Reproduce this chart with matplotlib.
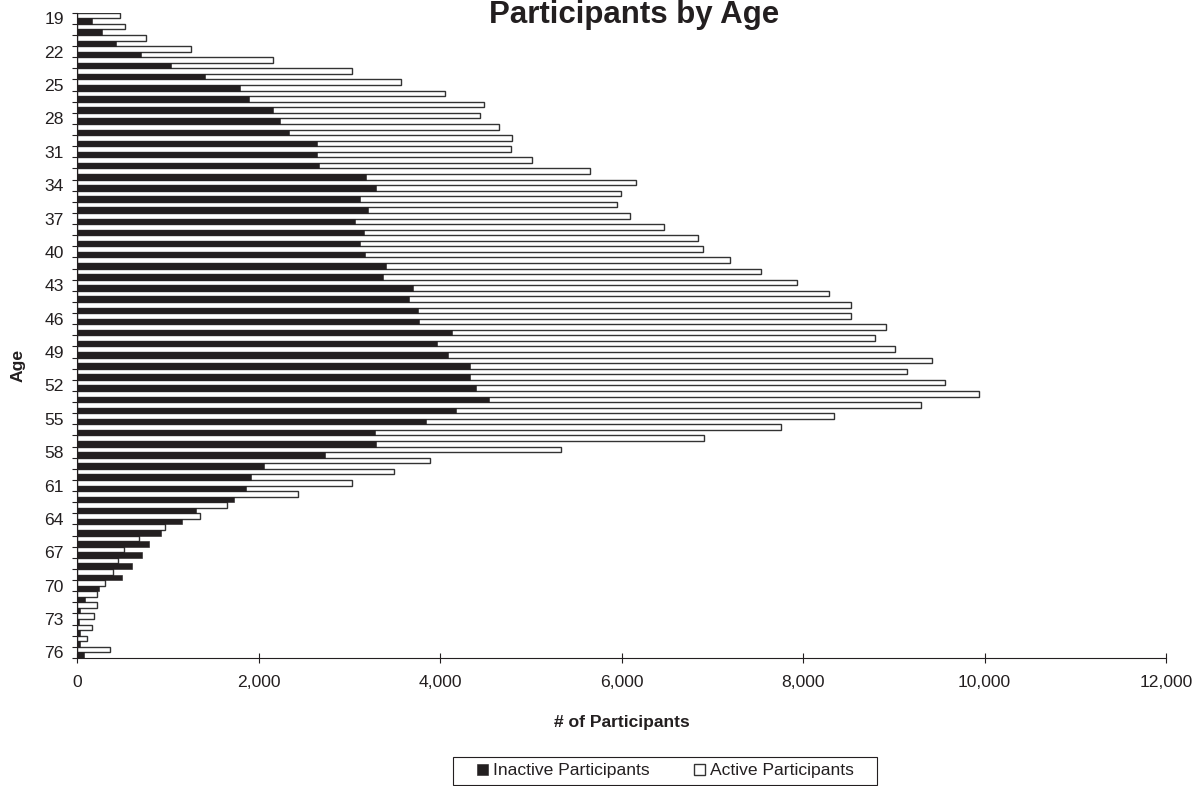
import numpy as np
import matplotlib
matplotlib.use("Agg")
from matplotlib import pyplot as plt
from matplotlib.patches import Rectangle
from matplotlib.ticker import FuncFormatter

# ages on the y axis, youngest at the top
ages = list(range(19, 77))

# number of inactive participants per age (black bars)
inactive = [165, 275, 425, 700, 1035, 1410, 1800, 1895, 2155, 2240,
            2340, 2650, 2650, 2670, 3180, 3300, 3120, 3210, 3065, 3165,
            3120, 3170, 3405, 3375, 3705, 3655, 3760, 3765, 4130, 3965,
            4090, 4330, 4335, 4400, 4535, 4180, 3845, 3280, 3290, 2735,
            2065, 1915, 1865, 1735, 1315, 1160, 930, 795, 720, 605,
            500, 240, 85, 35, 20, 30, 30, 80]

# number of active participants per age (white bars)
active = [475, 525, 765, 1255, 2165, 3030, 3565, 4055, 4490, 4440,
          4650, 4790, 4780, 5010, 5650, 6155, 5995, 5950, 6095, 6470,
          6845, 6900, 7195, 7535, 7930, 8285, 8525, 8530, 8915, 8790,
          9010, 9420, 9145, 9570, 9940, 9300, 8345, 7755, 6910, 5335,
          3890, 3495, 3035, 2435, 1650, 1360, 970, 680, 520, 455,
          400, 310, 220, 215, 190, 160, 115, 365]

xticks = [0, 2000, 4000, 6000, 8000, 10000, 12000]

plt.rcParams['font.family'] = ['Liberation Sans', 'DejaVu Sans']
plt.rcParams['font.size'] = 12.6
plt.rcParams['text.color'] = '#231f20'

W, H = 1198, 786
ink = '#231f20'

fig = plt.figure(figsize=(W / 100, H / 100), dpi=100)
ax = fig.add_axes([77 / W, 1 - 658 / H, (1166 - 77) / W, (658 - 12.7) / H])

# bars: active on top half of each age band, inactive on the bottom half
y = np.arange(len(ages))
white = ax.barh(y - 0.25, active, height=0.5, color='white',
                edgecolor='#333333', linewidth=1.0, zorder=2)
black = ax.barh(y + 0.25, inactive, height=0.5, color=ink,
                edgecolor=ink, linewidth=0.4, zorder=3)

ax.set_xlim(0, 12000)
ax.set_ylim(len(ages) - 0.5, -0.5)

# y axis: labels every third age, tick marks on the band edges
ax.set_yticks(y[::3])
ax.set_yticklabels([str(a) for a in ages[::3]])
ax.set_yticks(np.arange(-0.5, len(ages)), minor=True)
ax.tick_params(axis='y', which='major', length=0, pad=9.4, labelcolor=ink)
ax.tick_params(axis='y', which='minor', length=3.4, width=0.8,
               direction='out', color=ink)

# x axis
ax.set_xticks(xticks)
ax.xaxis.set_major_formatter(FuncFormatter(lambda v, p: '{:,.0f}'.format(v)))
ax.tick_params(axis='x', direction='inout', length=7.2, width=0.8,
               pad=8.6, color=ink, labelcolor=ink)

for side in ['top', 'right']:
    ax.spines[side].set_visible(False)
for side in ['left', 'bottom']:
    ax.spines[side].set_color(ink)
    ax.spines[side].set_linewidth(0.8)

# texts
fig.text(634 / W, 1 - 22.5 / H, 'Participants by Age', ha='center',
         va='baseline', fontsize=22.5, fontweight='bold')
fig.text(621.5 / W, 1 - 727 / H, '# of Participants', ha='center',
         va='baseline', fontweight='bold')
fig.text(18 / W, 1 - 365 / H, 'Age', rotation=90, ha='center',
         va='center', fontweight='bold')

# legend with a plain square frame
fig.legend(handles=[black, white],
           labels=['Inactive Participants', 'Active Participants'],
           loc='center left', bbox_to_anchor=(477 / W, 1 - 771 / H),
           ncol=2, frameon=False, borderpad=0, borderaxespad=0,
           handlelength=0.63, handleheight=0.63, handletextpad=0.3,
           columnspacing=2.5)
fig.patches.append(Rectangle((453 / W, 1 - 785 / H), (877 - 453) / W, 28 / H,
                             transform=fig.transFigure, fill=False,
                             edgecolor=ink, linewidth=0.8))

fig.savefig('out.png', dpi=100)
